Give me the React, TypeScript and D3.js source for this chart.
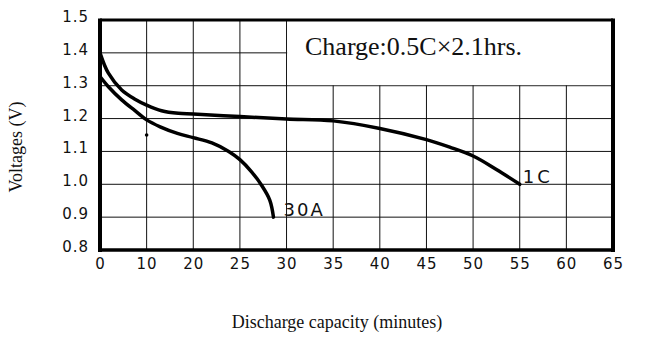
import React from "react";
import * as d3 from "d3";

const xTicks = [0, 10, 20, 25, 30, 35, 40, 45, 50, 55, 60, 65];
const yTicks = [0.8, 0.9, 1.0, 1.1, 1.2, 1.3, 1.4, 1.5];

const cap1C = [0, 1.8, 4.65, 7.5, 10, 13.2, 16.8, 20, 25, 30, 35, 40, 45, 47.5, 50, 52.5, 55];
const volt1C = [1.4, 1.338, 1.287, 1.259, 1.241, 1.224, 1.216, 1.214, 1.206, 1.199, 1.193, 1.17, 1.136, 1.113, 1.086, 1.045, 1.0];

const cap30A = [0, 1.8, 4.65, 7.5, 10, 12.9, 16.6, 20, 22, 23.8, 25, 26.25, 27.3, 28.2, 28.6];
const volt30A = [1.328, 1.297, 1.257, 1.224, 1.196, 1.175, 1.155, 1.142, 1.126, 1.1, 1.075, 1.038, 0.998, 0.952, 0.9];

const dotCap = [10];
const dotVolt = [1.15];

const chargeNote = "Charge:0.5C\u00d72.1hrs.";
const label1C = "1C";
const label30A = "30A";

const W = 646, H = 338;
const L = 100, R = 613, T = 20, B = 250;

export default function App() {
  const x = d3
    .scaleLinear()
    .domain(xTicks)
    .range(xTicks.map((_, i) => L + ((R - L) * i) / (xTicks.length - 1)));
  const y = d3.scaleLinear().domain([0.8, 1.5]).range([B, T]);

  const line = d3
    .line<[number, number]>()
    .x((d) => x(d[0]))
    .y((d) => y(d[1]))
    .curve(d3.curveCatmullRom.alpha(0.5));

  const d1C = line(cap1C.map((c, i) => [c, volt1C[i]] as [number, number])) || "";
  const d30A = line(cap30A.map((c, i) => [c, volt30A[i]] as [number, number])) || "";

  const tickFont = "'DejaVu Sans', sans-serif";
  const serif = "'Liberation Serif', 'Times New Roman', serif";

  return (
    <svg
      width={W}
      height={H}
      style={{ position: "absolute", left: 0, top: 0, background: "#fff" }}
    >
      <rect x={0} y={0} width={W} height={H} fill="#fff" />
      {xTicks.map((t) => (
        <line key={"gx" + t} x1={x(t)} x2={x(t)} y1={T} y2={B} stroke="#111" strokeWidth={1} />
      ))}
      {yTicks.map((t) => (
        <line key={"gy" + t} x1={L} x2={R} y1={y(t)} y2={y(t)} stroke="#111" strokeWidth={1} />
      ))}
      <rect x={x(30) + 0.6} y={T} width={R - x(30) - 0.6} height={y(1.3) - T - 0.6} fill="#fff" />
      <text x={305} y={55} fontFamily={serif} fontSize={26} fill="#111">
        {chargeNote}
      </text>
      <line x1={L} x2={L} y1={T - 1.5} y2={B + 2} stroke="#000" strokeWidth={4} />
      <line x1={R} x2={R} y1={T - 1.5} y2={B + 2} stroke="#000" strokeWidth={4} />
      <line x1={L} x2={R} y1={T} y2={T} stroke="#000" strokeWidth={3} />
      <line x1={L} x2={R + 2} y1={B} y2={B} stroke="#000" strokeWidth={3.5} />
      <path d={d1C} fill="none" stroke="#000" strokeWidth={3.5} strokeLinecap="round" strokeLinejoin="round" />
      <path d={d30A} fill="none" stroke="#000" strokeWidth={3.5} strokeLinecap="round" strokeLinejoin="round" />
      {dotCap.map((c, i) => (
        <circle key={"dot" + i} cx={x(c)} cy={y(dotVolt[i])} r={1.8} fill="#000" />
      ))}
      <text x={x(55) + 3} y={y(1.0) - 1} fontFamily={tickFont} fontSize={18} letterSpacing={3} fill="#111">
        {label1C}
      </text>
      <text x={x(28.6) + 10} y={y(0.9) - 1} fontFamily={tickFont} fontSize={18} letterSpacing={2} fill="#111">
        {label30A}
      </text>
      {yTicks.map((t) => (
        <text
          key={"yt" + t}
          x={89}
          y={y(t) - 3}
          textAnchor="end"
          dominantBaseline="central"
          fontFamily={tickFont}
          fontSize={15}
          letterSpacing={1}
          fill="#111"
        >
          {t.toFixed(1)}
        </text>
      ))}
      {xTicks.map((t) => (
        <text
          key={"xt" + t}
          x={x(t) + 0.5}
          y={269}
          textAnchor="middle"
          fontFamily={tickFont}
          fontSize={15}
          letterSpacing={1}
          fill="#111"
        >
          {t}
        </text>
      ))}
      <text x={337} y={328} textAnchor="middle" fontFamily={serif} fontSize={18} fill="#111">
        Discharge capacity (minutes)
      </text>
      <text
        transform={`translate(22, 147) rotate(-90)`}
        textAnchor="middle"
        fontFamily={serif}
        fontSize={18}
        fill="#111"
      >
        Voltages (V)
      </text>
    </svg>
  );
}
